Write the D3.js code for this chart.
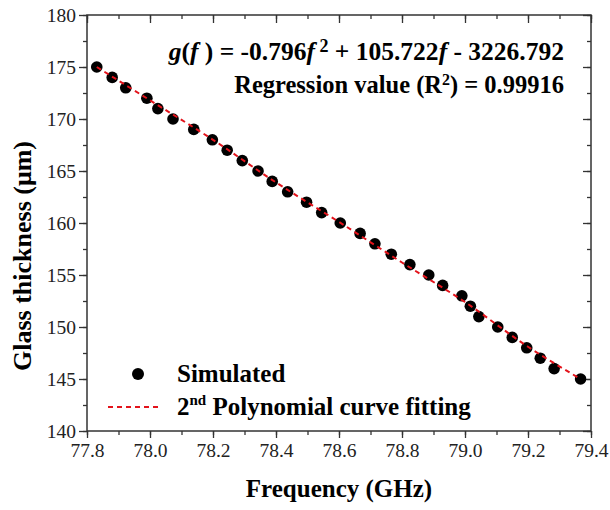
<!DOCTYPE html>
<html><head><meta charset="utf-8">
<script src="https://cdn.jsdelivr.net/npm/d3@7"></script>
<style>body{margin:0;background:#fff}svg{display:block}</style>
</head><body>
<svg id="c" width="610" height="510"></svg>
<script>
// Simulated data (frequency in GHz, glass thickness in µm)
const simFreq = [77.831,77.880,77.923,77.990,78.025,78.073,78.139,78.198,78.245,78.293,78.343,78.388,78.437,78.497,78.545,78.604,78.667,78.714,78.766,78.825,78.885,78.929,78.990,79.017,79.044,79.104,79.150,79.196,79.239,79.283,79.367];
const simThick = [175,174,173,172,171,170,169,168,167,166,165,164,163,162,161,160,159,158,157,156,155,154,153,152,151,150,149,148,147,146,145];
// 2nd-order polynomial fit curve
const fitFreq = [77.831,78.0,78.2,78.4,78.6,78.8,79.0,79.2,79.367];
const fitThick = [175.0,171.8,168.0,163.9,160.1,156.2,152.4,148.1,145.0];
const xTicks = [77.8,78.0,78.2,78.4,78.6,78.8,79.0,79.2,79.4];
const yTicks = [140,145,150,155,160,165,170,175,180];

const svg = d3.select("#c");
const L=87,R=591,T=15,B=431;
const x = d3.scaleLinear().domain([77.8,79.4]).range([L,R]);
const y = d3.scaleLinear().domain([140,180]).range([B,T]);
const FONT = "'Liberation Serif','Times New Roman',serif";
const axisCol = "#333";

const xMinor = d3.range(77.8,79.41,0.1).map(v=>+v.toFixed(1));
const yMinor = d3.range(140,180.1,2.5);

function styleAxis(g){
  g.select(".domain").remove();
  g.selectAll("line").attr("stroke",axisCol).attr("stroke-width",1.3);
  g.selectAll("text").attr("font-family",FONT).attr("font-size",19.5).attr("fill","#222");
}
// bottom
svg.append("g").attr("transform",`translate(0,${B})`)
  .call(d3.axisBottom(x).tickValues(xMinor).tickSize(4).tickFormat(""))
  .call(styleAxis);
svg.append("g").attr("transform",`translate(0,${B})`)
  .call(d3.axisBottom(x).tickValues(xTicks).tickSize(7).tickPadding(5).tickFormat(d3.format(".1f")))
  .call(styleAxis);
// top
svg.append("g").attr("transform",`translate(0,${T})`)
  .call(d3.axisTop(x).tickValues(xMinor).tickSize(-4).tickFormat(""))
  .call(styleAxis);
svg.append("g").attr("transform",`translate(0,${T})`)
  .call(d3.axisTop(x).tickValues(xTicks).tickSize(-8).tickFormat(""))
  .call(styleAxis);
// left
svg.append("g").attr("transform",`translate(${L},0)`)
  .call(d3.axisLeft(y).tickValues(yMinor).tickSize(4).tickFormat(""))
  .call(styleAxis);
svg.append("g").attr("transform",`translate(${L},0)`)
  .call(d3.axisLeft(y).tickValues(yTicks).tickSize(8).tickPadding(3).tickFormat(d3.format("d")))
  .call(styleAxis);
// right
svg.append("g").attr("transform",`translate(${R},0)`)
  .call(d3.axisRight(y).tickValues(yMinor).tickSize(-4).tickFormat(""))
  .call(styleAxis);
svg.append("g").attr("transform",`translate(${R},0)`)
  .call(d3.axisRight(y).tickValues(yTicks).tickSize(-8).tickFormat(""))
  .call(styleAxis);
// frame
svg.append("rect").attr("x",L).attr("y",T).attr("width",R-L).attr("height",B-T)
  .attr("fill","none").attr("stroke",axisCol).attr("stroke-width",1.5);

// points
svg.append("g").selectAll("circle").data(simFreq).join("circle")
  .attr("cx",(d)=>x(d)).attr("cy",(d,i)=>y(simThick[i])).attr("r",5.8).attr("fill","#000");
// fit line
const line = d3.line().curve(d3.curveMonotoneX).x(d=>x(d[0])).y(d=>y(d[1]));
svg.append("path").datum(fitFreq.map((f,i)=>[f,fitThick[i]]))
  .attr("d",line).attr("fill","none").attr("stroke","#e3131b").attr("stroke-width",2)
  .attr("stroke-dasharray","5,4");

// equation texts
const eq = svg.append("text").attr("x",564).attr("y",60).attr("text-anchor","end")
  .attr("font-family",FONT).attr("font-size",25.5).attr("font-weight","bold").attr("fill","#000");
eq.append("tspan").attr("font-style","italic").text("g");
eq.append("tspan").text("(");
eq.append("tspan").attr("font-style","italic").text("f");
eq.append("tspan").text(" ) = -0.796");
eq.append("tspan").attr("font-style","italic").text("f");
eq.append("tspan").attr("font-size",18).attr("dy",-8).text(" 2");
eq.append("tspan").attr("dy",8).text(" + 105.722");
eq.append("tspan").attr("font-style","italic").text("f");
eq.append("tspan").text(" - 3226.792");

const rg = svg.append("text").attr("x",564).attr("y",93).attr("text-anchor","end")
  .attr("font-family",FONT).attr("font-size",24.5).attr("font-weight","bold").attr("fill","#000");
rg.append("tspan").text("Regression value (R");
rg.append("tspan").attr("font-size",16).attr("dy",-8).text("2");
rg.append("tspan").attr("dy",8).text(") = 0.99916");

// legend
svg.append("circle").attr("cx",138).attr("cy",374).attr("r",6).attr("fill","#000");
svg.append("text").attr("x",177).attr("y",382).attr("font-family",FONT).attr("font-size",25)
  .attr("font-weight","bold").text("Simulated");
svg.append("line").attr("x1",108).attr("x2",160).attr("y1",407).attr("y2",407)
  .attr("stroke","#e3131b").attr("stroke-width",2).attr("stroke-dasharray","5,4");
const lg = svg.append("text").attr("x",177).attr("y",415).attr("font-family",FONT).attr("font-size",25)
  .attr("font-weight","bold");
lg.append("tspan").text("2");
lg.append("tspan").attr("font-size",15).attr("dy",-10).text("nd");
lg.append("tspan").attr("dy",10).text(" Polynomial curve fitting");

// axis titles
svg.append("text").attr("x",(L+R)/2).attr("y",497).attr("text-anchor","middle")
  .attr("font-family",FONT).attr("font-size",25).attr("font-weight","bold").text("Frequency (GHz)");
svg.append("text").attr("transform",`translate(31,256) rotate(-90)`).attr("text-anchor","middle")
  .attr("font-family",FONT).attr("font-size",26).attr("font-weight","bold").text("Glass thickness (\u03bcm)");
</script>
</body></html>
